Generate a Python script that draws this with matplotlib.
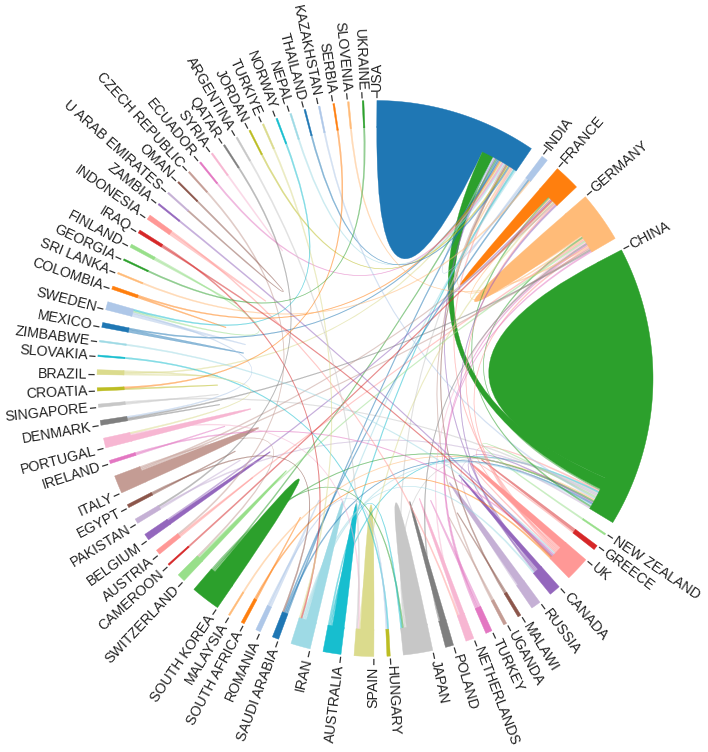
import numpy as np
import matplotlib
matplotlib.use("Agg")
import matplotlib.pyplot as plt
from matplotlib.path import Path
from matplotlib.patches import PathPatch

# ---------------- data ----------------
countries = ["USA", "INDIA", "FRANCE", "GERMANY", "CHINA", "NEW ZEALAND", "GREECE", "UK",
             "CANADA", "RUSSIA", "MALAWI", "UGANDA", "TURKEY", "NETHERLANDS", "POLAND", "JAPAN",
             "HUNGARY", "SPAIN", "AUSTRALIA", "IRAN", "SAUDI ARABIA", "ROMANIA", "SOUTH AFRICA",
             "MALAYSIA", "SOUTH KOREA", "SWITZERLAND", "CAMEROON", "AUSTRIA", "BELGIUM", "PAKISTAN",
             "EGYPT", "ITALY", "IRELAND", "PORTUGAL", "DENMARK", "SINGAPORE", "CROATIA", "BRAZIL",
             "SLOVAKIA", "ZIMBABWE", "MEXICO", "SWEDEN", "COLOMBIA", "SRI LANKA", "GEORGIA",
             "FINLAND", "IRAQ", "INDONESIA", "ZAMBIA", "U ARAB EMIRATES", "OMAN", "CZECH REPUBLIC",
             "ECUADOR", "SYRIA", "QATAR", "ARGENTINA", "JORDAN", "TURKIYE", "NORWAY", "NEPAL",
             "THAILAND", "KAZAKHSTAN", "SERBIA", "SLOVENIA", "UKRAINE"]

# single-country collaborations (self links), same order as countries
self_values = [73, 1, 8, 18, 149, 0, 2, 5,
               3, 5, 1, 1, 2, 3, 4, 14,
               0, 9, 8, 7, 0, 2, 1,
               0, 15, 3, 0, 1, 3, 1,
               1, 8, 1, 4, 1, 1, 1, 1,
               0, 0, 2, 2, 1, 0, 0,
               1, 0, 2, 0, 0, 0, 0,
               0, 1, 0, 0, 0, 0, 0, 0,
               0, 0, 0, 0, 0]

link_from = ["USA", "USA", "USA", "USA", "USA", "USA", "USA", "USA", "USA", "USA",
             "USA", "USA", "USA", "USA", "USA", "USA", "USA", "USA", "USA",
             "CHINA", "CHINA", "CHINA", "CHINA", "CHINA", "CHINA", "CHINA", "CHINA", "CHINA",
             "CHINA", "CHINA", "CHINA", "CHINA", "CHINA", "CHINA",
             "GERMANY", "GERMANY", "GERMANY", "GERMANY", "GERMANY", "GERMANY", "GERMANY",
             "GERMANY", "GERMANY", "GERMANY",
             "FRANCE", "FRANCE", "FRANCE", "FRANCE", "FRANCE", "FRANCE",
             "INDIA", "INDIA",
             "UK", "UK", "UK", "UK", "UK", "UK",
             "CANADA", "TURKEY", "NETHERLANDS", "JAPAN", "JAPAN",
             "HUNGARY", "HUNGARY", "SPAIN", "SPAIN", "IRAN", "IRAN", "SAUDI ARABIA",
             "SWITZERLAND", "AUSTRIA", "PAKISTAN", "PORTUGAL", "DENMARK", "CROATIA",
             "SWEDEN", "SWEDEN", "GEORGIA", "U ARAB EMIRATES"]
link_to = ["CHINA", "INDIA", "CANADA", "SOUTH KOREA", "SAUDI ARABIA", "MEXICO", "COLOMBIA",
           "BRAZIL", "ECUADOR", "NEPAL", "UGANDA", "MALAWI", "JORDAN", "THAILAND",
           "GERMANY", "UK", "JAPAN", "AUSTRALIA", "IRAN",
           "GERMANY", "UK", "AUSTRALIA", "JAPAN", "PAKISTAN", "SINGAPORE", "NEW ZEALAND",
           "KAZAKHSTAN", "MALAYSIA", "SOUTH KOREA", "CANADA", "SAUDI ARABIA", "IRAN", "FRANCE",
           "RUSSIA",
           "FRANCE", "AUSTRIA", "SWITZERLAND", "NETHERLANDS", "POLAND", "TURKEY", "SLOVENIA",
           "UK", "ITALY", "DENMARK",
           "BELGIUM", "CAMEROON", "SPAIN", "ITALY", "UK", "CANADA",
           "SAUDI ARABIA", "SRI LANKA",
           "GREECE", "ZIMBABWE", "IRELAND", "ZAMBIA", "IRAQ", "SOUTH AFRICA",
           "IRAN", "GERMANY", "INDONESIA", "SOUTH KOREA", "AUSTRALIA",
           "SLOVAKIA", "ROMANIA", "PORTUGAL", "ARGENTINA", "IRAQ", "TURKIYE", "EGYPT",
           "ITALY", "CZECH REPUBLIC", "QATAR", "BRAZIL", "SWEDEN", "SERBIA",
           "FINLAND", "NORWAY", "UKRAINE", "OMAN"]
link_values = [8, 1, 1, 1, 1, 1, 1, 1, 1, 1, 1, 1, 1, 1, 1, 1, 1, 1, 1,
               1, 1, 1, 1, 1, 1, 1, 1, 1, 1, 1, 1, 1, 1, 1,
               1, 1, 1, 1, 1, 1, 1, 1, 1, 1,
               1, 1, 1, 1, 1, 1,
               1, 1,
               1, 1, 1, 1, 1, 1,
               1, 1, 1, 1, 1,
               1, 1, 1, 1, 1, 1, 1,
               1, 1, 1, 1, 1, 1,
               1, 1, 1, 1]

# ---------------- layout ----------------
W, H = 708, 752
cx, cy = 375.0, 378.5
R_OUT, R_IN = 278.0, 251.0
GAP = 2.7          # degrees between groups
START = 0.4        # start angle of first group (clockwise from top)

n = len(countries)
idx = {c: i for i, c in enumerate(countries)}
cmap = plt.get_cmap("tab20")
colors = [cmap(i % 20) for i in range(n)]

subs = [[] for _ in range(n)]
for i, v in enumerate(self_values):
    if v > 0:
        subs[i].append((v, i, ("self", i)))
for k, (a, b, v) in enumerate(zip(link_from, link_to, link_values)):
    ia, ib = idx[a], idx[b]
    subs[ia].append((v, ib, ("link", k)))
    subs[ib].append((v, ia, ("link", k)))

totals = [sum(s[0] for s in sl) for sl in subs]
S = sum(totals)
unit = (360.0 - n * GAP) / S

group_ang = []
pos = {}
ang = START
for i in range(n):
    g0 = ang
    order = sorted(subs[i], key=lambda s: -s[0])
    a = g0
    for v, partner, key in order:
        pos[(key, i)] = (a, a + v * unit)
        a += v * unit
    group_ang.append((g0, g0 + totals[i] * unit))
    ang = g0 + totals[i] * unit + GAP


def pt(theta, r):
    t = np.radians(theta)
    return cx + r * np.sin(t), cy - r * np.cos(t)


def arc_pts(a0, a1, r):
    m = max(2, int(abs(a1 - a0) / 0.4) + 2)
    return [pt(t, r) for t in np.linspace(a0, a1, m)]


def chord_alpha(v):
    return 1.0 if v >= 3 else 0.5


fig = plt.figure(figsize=(W / 100, H / 100), dpi=100)
ax = fig.add_axes([0, 0, 1, 1])
ax.set_xlim(0, W)
ax.set_ylim(H, 0)
ax.axis("off")

# self loops
for i, v in enumerate(self_values):
    if v <= 0:
        continue
    a0, a1 = pos[(("self", i), i)]
    verts = arc_pts(a0, a1, R_IN + 1)
    codes = [Path.MOVETO] + [Path.LINETO] * (len(verts) - 1)
    verts += [(cx, cy), pt(a0, R_IN + 1), pt(a0, R_IN + 1)]
    codes += [Path.CURVE3, Path.CURVE3, Path.CLOSEPOLY]
    ax.add_patch(PathPatch(Path(verts, codes), facecolor=colors[i], edgecolor=colors[i],
                           lw=0.2, alpha=chord_alpha(v), zorder=2))

# links between countries
order_links = sorted(range(len(link_values)), key=lambda k: -link_values[k])
for k in order_links:
    ia, ib = idx[link_from[k]], idx[link_to[k]]
    s0, s1 = pos[(("link", k), ia)]
    t0, t1 = pos[(("link", k), ib)]
    col = colors[max(ia, ib)]
    verts = arc_pts(s0, s1, R_IN + 1)
    codes = [Path.MOVETO] + [Path.LINETO] * (len(verts) - 1)
    verts += [(cx, cy), pt(t0, R_IN + 1)]
    codes += [Path.CURVE3, Path.CURVE3]
    tv = arc_pts(t0, t1, R_IN + 1)[1:]
    verts += tv
    codes += [Path.LINETO] * len(tv)
    verts += [(cx, cy), pt(s0, R_IN + 1), pt(s0, R_IN + 1)]
    codes += [Path.CURVE3, Path.CURVE3, Path.CLOSEPOLY]
    ax.add_patch(PathPatch(Path(verts, codes), facecolor=col, edgecolor=col,
                           lw=0.2, alpha=chord_alpha(link_values[k]), zorder=3))

# outer bands and labels
for i, (g0, g1) in enumerate(group_ang):
    outer = arc_pts(g0, g1, R_OUT)
    inner = arc_pts(g1, g0, R_IN)
    poly = outer + inner
    ax.fill([p[0] for p in poly], [p[1] for p in poly], color=colors[i], lw=0.3,
            ec=colors[i], zorder=4)
    x1, y1 = pt(g0, R_OUT + 3)
    x2, y2 = pt(g0, R_OUT + 8)
    ax.plot([x1, x2], [y1, y2], color="#333333", lw=0.9, zorder=5)
    tx, ty = pt(g0, R_OUT + 10)
    th = g0 % 360
    if th < 180:
        rot, ha = 90 - th, "left"
    else:
        rot, ha = 270 - th, "right"
    ax.text(tx, ty, countries[i], rotation=rot, rotation_mode="anchor", ha=ha, va="center",
            fontsize=10.2, family="Liberation Sans", color="#222222", zorder=6)

fig.savefig("out.png", dpi=100)
